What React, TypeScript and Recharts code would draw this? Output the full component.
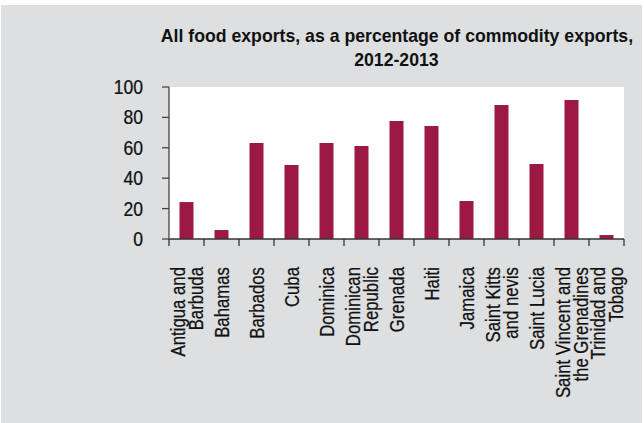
import React from "react";
import { BarChart, Bar, XAxis, YAxis, CartesianGrid } from "recharts";

const categories = [
  "Antigua and|Barbuda",
  "Bahamas",
  "Barbados",
  "Cuba",
  "Dominica",
  "Dominican|Republic",
  "Grenada",
  "Haiti",
  "Jamaica",
  "Saint Kitts|and nevis",
  "Saint Lucia",
  "Saint Vincent and|the Grenadines",
  "Trinidad and|Tobago",
];
const values = [24.3, 5.9, 63.2, 48.7, 63.2, 61.2, 77.6, 74.3, 25.0, 88.2, 49.3, 91.4, 2.6];
const yTicks = [0, 20, 40, 60, 80, 100];
const titleLines = ["All food exports, as a percentage of commodity exports,", "2012-2013"];

const data = categories.map((c, i) => ({ name: c, value: values[i] }));

const FONT = "'Liberation Sans', Arial, sans-serif";
const CHART_W = 641;
const CHART_H = 418;
const MARGIN = { top: 82, right: 18, bottom: 14, left: 108 };
const Y_W = 60;
const PLOT_W = CHART_W - MARGIN.left - MARGIN.right - Y_W;
const BAND = PLOT_W / categories.length;

const XTick = (props: any) => {
  const { x, y, payload, index } = props;
  const lines: string[] = String(payload.value).split("|");
  const fs = 19.5;
  const lh = 18;
  const n = lines.length;
  return (
    <g>
      <line x1={x - BAND / 2} x2={x - BAND / 2} y1={y} y2={y + 7} stroke="#333" strokeWidth={1.3} />
      {index === categories.length - 1 && (
        <line x1={x + BAND / 2} x2={x + BAND / 2} y1={y} y2={y + 7} stroke="#333" strokeWidth={1.3} />
      )}
      <g transform={`translate(${x},${y + 28}) rotate(-90) scale(0.86,1)`}>
        <text textAnchor="end" fontFamily={FONT} fontSize={fs} fill="#111" stroke="#111" strokeWidth={0.25}>
          {lines.map((l, i) => (
            <tspan key={i} x={0} dy={i === 0 ? 0.36 * fs - ((n - 1) * lh) / 2 : lh}>
              {l}
            </tspan>
          ))}
        </text>
      </g>
    </g>
  );
};

const YTick = (props: any) => {
  const { x, y, payload } = props;
  return (
    <g transform={`translate(${x},${y}) scale(0.9,1)`}>
      <text x={0} y={0} dy={0.36 * 19.5} textAnchor="end" fontFamily={FONT} fontSize={19.5} fill="#111" stroke="#111" strokeWidth={0.25}>
        {payload.value}
      </text>
    </g>
  );
};

export default function App() {
  return (
    <div style={{ position: "absolute", left: 0, top: 0, width: 644, height: 423, background: "#fff" }}>
      <div
        style={{
          position: "absolute",
          left: 1,
          top: 5,
          width: CHART_W,
          height: CHART_H,
          background: "#dedfe0",
        }}
      >
        <div
          style={{
            position: "absolute",
            left: MARGIN.left + Y_W - 100,
            width: PLOT_W + 200,
            top: 19,
            textAlign: "center",
            fontFamily: FONT,
            fontWeight: "bold",
            fontSize: 19,
            lineHeight: "24px",
            color: "#111",
          }}
        >
          {titleLines.map((t, i) => (
            <div key={i}>
              <span style={{ display: "inline-block", whiteSpace: "nowrap", transform: "scaleX(0.93)" }}>{t}</span>
            </div>
          ))}
        </div>
        <BarChart width={CHART_W} height={CHART_H} data={data} margin={MARGIN} barCategoryGap={10.5}>
          <CartesianGrid horizontal={false} vertical={false} fill="#fff" stroke="none" />
          <XAxis
            dataKey="name"
            interval={0}
            height={170}
            tickLine={false}
            tickSize={0}
            tickMargin={0}
            axisLine={{ stroke: "#333", strokeWidth: 1.3 }}
            tick={<XTick />}
          />
          <YAxis
            width={Y_W}
            domain={[0, 100]}
            ticks={yTicks}
            interval={0}
            tickSize={7}
            tickMargin={19}
            axisLine={{ stroke: "#444", strokeWidth: 1.3 }}
            tickLine={{ stroke: "#444", strokeWidth: 1.3 }}
            tick={<YTick />}
          />
          <Bar dataKey="value" fill="#9b1943" isAnimationActive={false} />
        </BarChart>
      </div>
    </div>
  );
}
